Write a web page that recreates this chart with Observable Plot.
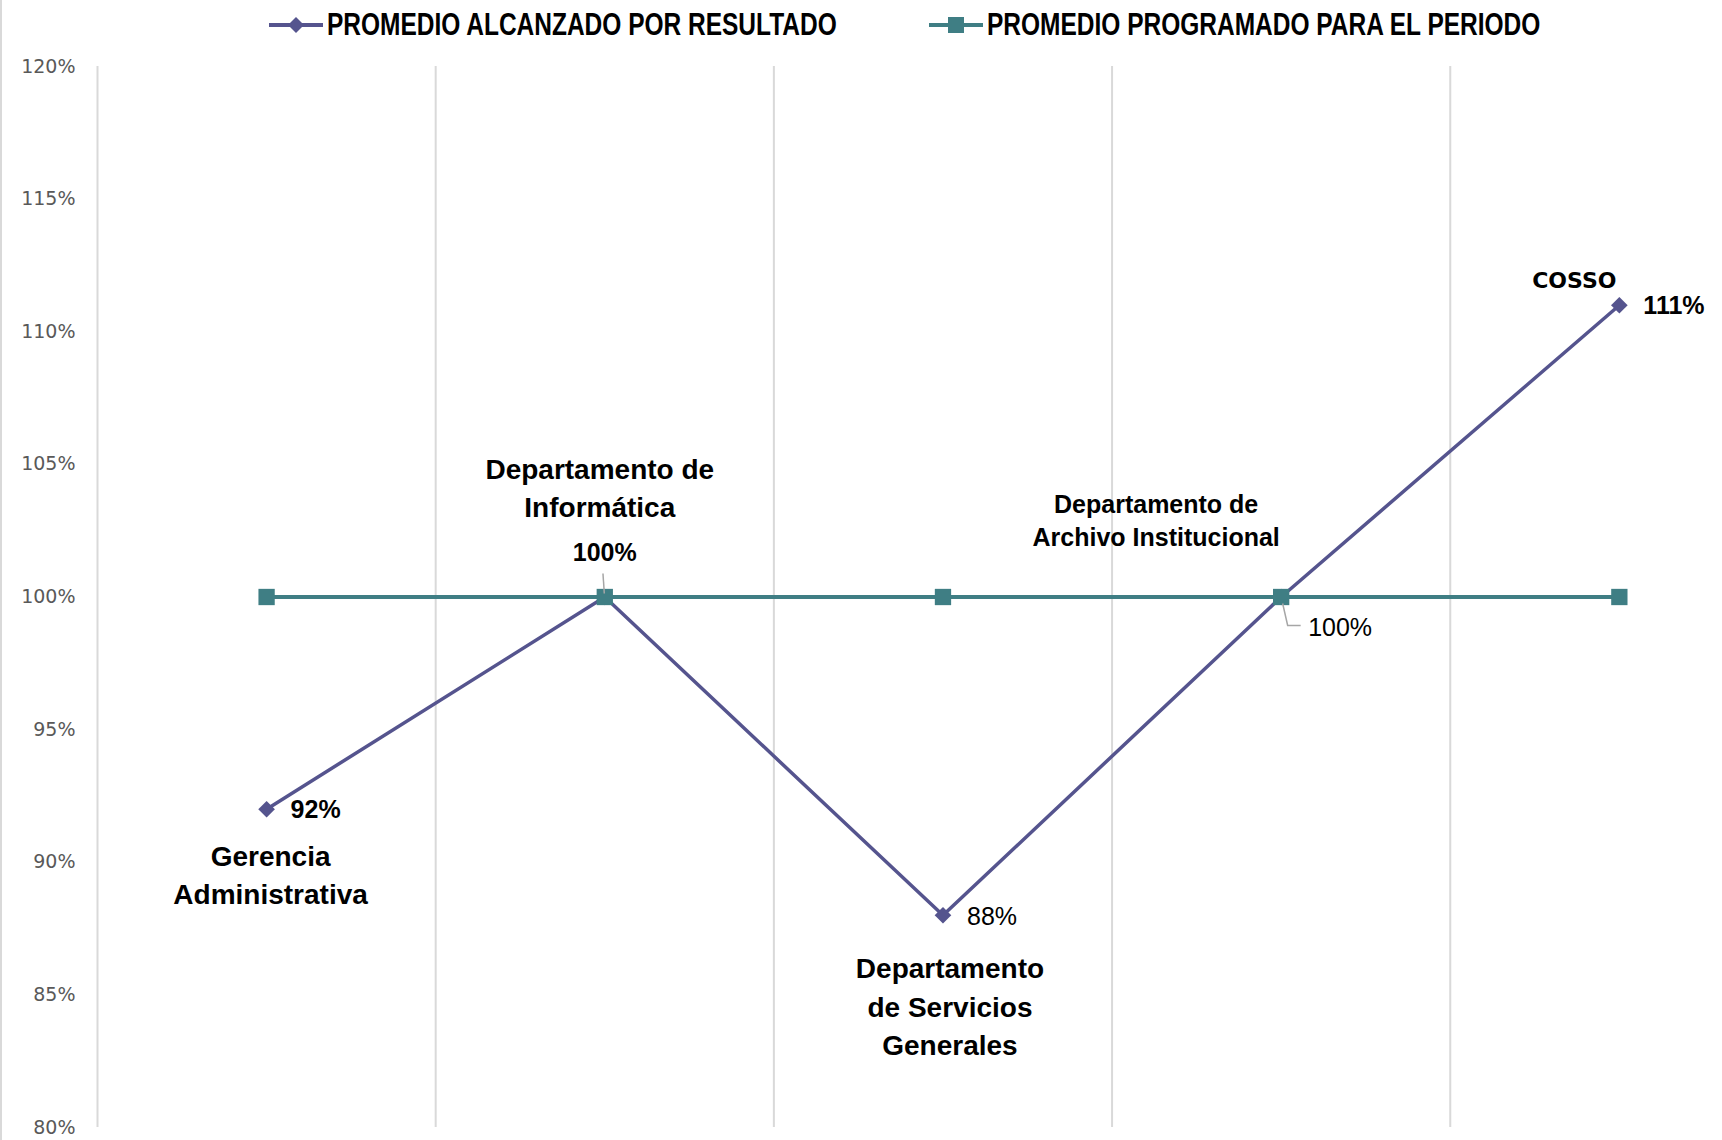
<!DOCTYPE html>
<html>
<head>
<meta charset="utf-8">
<script src="https://cdn.jsdelivr.net/npm/d3@7"></script>
<script src="https://cdn.jsdelivr.net/npm/@observablehq/plot@0.6"></script>
<style>
  html, body { margin: 0; padding: 0; background: #fff; }
  #wrap { position: relative; width: 1722px; height: 1140px; overflow: hidden; }
  #edge { position: absolute; left: 0; top: 0; width: 2px; height: 1140px; background: #d9d9d9; }
  #legend { position: relative; height: 50px; width: 1722px; }
  .item { position: absolute; top: 0; height: 50px; display: flex; align-items: center; }
  .item span { display: inline-block; font-family: "Liberation Sans", Arial, sans-serif; font-weight: bold; font-size: 31px; color: #000; margin-left: 4px; white-space: nowrap; transform: scaleX(0.79); transform-origin: left center; }
  #chart svg { display: block; }
</style>
</head>
<body>
<div id="wrap">
  <div id="legend"></div>
  <div id="chart"></div>
  <div id="edge"></div>
</div>
<script>
// ---- data ----
const categories = [
  "Gerencia\nAdministrativa",
  "Departamento de\nInformática",
  "Departamento\nde Servicios\nGenerales",
  "Departamento de\nArchivo Institucional",
  "COSSO"
];
const achieved = [0.92, 1.00, 0.88, 1.00, 1.11];
const programmed = [1.00, 1.00, 1.00, 1.00, 1.00];
const seriesNames = ["PROMEDIO ALCANZADO POR RESULTADO", "PROMEDIO PROGRAMADO PARA EL PERIODO"];
const yTicks = [0.80, 0.85, 0.90, 0.95, 1.00, 1.05, 1.10, 1.15, 1.20];

// ---- styles / layout ----
const colAchieved = "#55548e";
const colProgrammed = "#3f7e84";
const pctFmt = d3.format(".0%");
const valueLabelLayout = [
  {dx: 24, dy: 1, anchor: "start", bold: true},
  {dx: 0, dy: -44, anchor: "middle", bold: true},
  {dx: 24, dy: 2, anchor: "start", bold: false},
  {dx: 27, dy: 31, anchor: "start", bold: false},
  {dx: 24, dy: 1, anchor: "start", bold: true}
];
const catLabelLayout = [
  {dx: 4, dy: 64, size: 28, lh: 1.36, font: "Liberation Sans, Arial, sans-serif"},
  {dx: -5, dy: -111, size: 28, lh: 1.34, font: "Liberation Sans, Arial, sans-serif"},
  {dx: 7, dy: 89, size: 28, lh: 1.37, font: "Liberation Sans, Arial, sans-serif"},
  {dx: -125, dy: -78, size: 25, lh: 1.32, font: "Liberation Sans, Arial, sans-serif"},
  {dx: -45, dy: -26, size: 22, lh: 1.2, font: "DejaVu Sans, sans-serif"}
];
const leaders = [
  {i: 1, path: [[-1.3, -23], [0, -3]]},
  {i: 3, path: [[2, 7], [7, 29], [20, 29]]}
];

const rows = categories.map((c, i) => ({i, cat: c, a: achieved[i], p: programmed[i]}));

// ---- legend ----
const legend = document.getElementById("legend");
function legendItem(left, color, symbol, text) {
  const d = document.createElement("div");
  d.className = "item";
  d.style.left = left + "px";
  const mk = symbol === "diamond"
    ? `<path d="M27,17 L35,25 L27,33 L19,25 Z" fill="${color}"/>`
    : `<rect x="19" y="17" width="16" height="16" fill="${color}"/>`;
  d.innerHTML = `<svg width="54" height="50"><line x1="0" x2="54" y1="25" y2="25" stroke="${color}" stroke-width="4" stroke-linecap="round"/>${mk}</svg><span>${text}</span>`;
  legend.appendChild(d);
}
legendItem(269, colAchieved, "diamond", seriesNames[0]);
legendItem(929, colProgrammed, "square", seriesNames[1]);

// ---- chart ----
const marks = [];
marks.push(Plot.ruleX([-0.5, 0.5, 1.5, 2.5, 3.5], {y1: 0.8, y2: 1.2, stroke: "#d9d9d9", strokeWidth: 2}));
marks.push(Plot.axisY({ticks: yTicks, tickFormat: pctFmt, tickSize: 0, tickPadding: 22, color: "#595959", fontSize: 19, fontFamily: "DejaVu Sans, sans-serif", label: null}));
marks.push(Plot.line(rows, {x: "i", y: "a", stroke: colAchieved, strokeWidth: 3.5}));
marks.push(Plot.dot(rows, {x: "i", y: "a", symbol: "diamond2", r: 7.5, fill: colAchieved, stroke: "none"}));
marks.push(Plot.line(rows, {x: "i", y: "p", stroke: colProgrammed, strokeWidth: 4}));
marks.push(Plot.dot(rows, {x: "i", y: "p", symbol: "square", r: 9.2, fill: colProgrammed, stroke: "none"}));
// leader lines
marks.push((index, scales) => {
  const g = d3.create("svg:g");
  for (const L of leaders) {
    const px = scales.x(rows[L.i].i), py = scales.y(rows[L.i].a);
    const pts = L.path.map(([dx, dy]) => [px + dx, py + dy]);
    g.append("path").attr("d", d3.line()(pts)).attr("fill", "none").attr("stroke", "#a6a6a6").attr("stroke-width", 1.5);
  }
  return g.node();
});
// value labels
rows.forEach((r, k) => {
  const L = valueLabelLayout[k];
  marks.push(Plot.text([r], {x: "i", y: "a", text: d => pctFmt(d.a), dx: L.dx, dy: L.dy, textAnchor: L.anchor,
    fontWeight: L.bold ? "bold" : "normal", fontSize: 25, fill: "#000", fontFamily: "Liberation Sans, Arial, sans-serif"}));
});
// category labels
rows.forEach((r, k) => {
  const L = catLabelLayout[k];
  marks.push(Plot.text([r], {x: "i", y: "a", text: "cat", dx: L.dx, dy: L.dy, textAnchor: "middle", lineAnchor: "middle",
    lineHeight: L.lh, fontWeight: "bold", fontSize: L.size, fill: "#000", fontFamily: L.font}));
});

const chart = Plot.plot({
  width: 1722,
  height: 1090,
  marginLeft: 97,
  marginRight: 0,
  marginTop: 16,
  marginBottom: 13,
  x: {type: "linear", domain: [-0.5, 4.305], axis: null},
  y: {domain: [0.8, 1.2]},
  style: {background: "#fff", overflow: "visible"},
  marks
});
document.getElementById("chart").appendChild(chart);
</script>
</body>
</html>
